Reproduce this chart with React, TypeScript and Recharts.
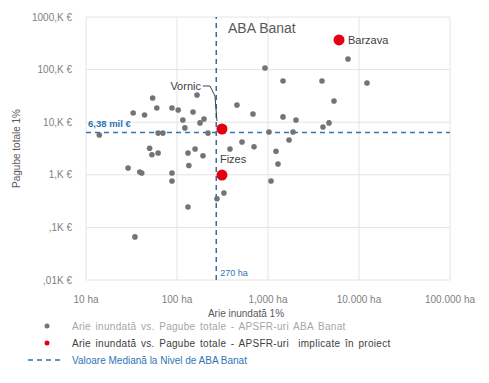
import React from 'react';
import { ScatterChart, Scatter, XAxis, YAxis, CartesianGrid, ReferenceLine, Label } from 'recharts';

// axis ticks (log scales)
const areaTicks = [10, 100, 1000, 10000, 100000];
const areaTickLabels = ['10 ha', '100 ha', '1,000 ha', '10.000 ha', '100.000 ha'];
const damageTicks = [10, 100, 1000, 10000, 100000, 1000000];
const damageTickLabels = [',01K €', ',1K €', '1,K €', '10,K €', '100,K €', '1000,K €'];

// APSFR-uri ABA Banat: arie inundata (ha) vs pagube totale (€)
const apsfrBanat = [
  { area: 14, damage: 5700 },
  { area: 33, damage: 15000 },
  { area: 44, damage: 13700 },
  { area: 54, damage: 28800 },
  { area: 60, damage: 18600 },
  { area: 88, damage: 18600 },
  { area: 103, damage: 17100 },
  { area: 150, damage: 15600 },
  { area: 116, damage: 11000 },
  { area: 179, damage: 9700 },
  { area: 198, damage: 11500 },
  { area: 122, damage: 7800 },
  { area: 62, damage: 6200 },
  { area: 70, damage: 6200 },
  { area: 219, damage: 6200 },
  { area: 50, damage: 3200 },
  { area: 53, damage: 2400 },
  { area: 62, damage: 2600 },
  { area: 132, damage: 2600 },
  { area: 158, damage: 3100 },
  { area: 193, damage: 2300 },
  { area: 135, damage: 1500 },
  { area: 29, damage: 1350 },
  { area: 39, damage: 1130 },
  { area: 41, damage: 1080 },
  { area: 88, damage: 1080 },
  { area: 88, damage: 760 },
  { area: 328, damage: 450 },
  { area: 275, damage: 350 },
  { area: 132, damage: 245 },
  { area: 34.5, damage: 66 },
  { area: 166, damage: 32900 },
  { area: 456, damage: 21200 },
  { area: 684, damage: 14300 },
  { area: 518, damage: 4200 },
  { area: 702, damage: 3400 },
  { area: 382, damage: 3100 },
  { area: 1026, damage: 6500 },
  { area: 1883, damage: 6500 },
  { area: 1702, damage: 4600 },
  { area: 1225, damage: 2800 },
  { area: 1288, damage: 1600 },
  { area: 1079, damage: 760 },
  { area: 927, damage: 107000 },
  { area: 1462, damage: 60700 },
  { area: 3920, damage: 60700 },
  { area: 5310, damage: 25300 },
  { area: 7570, damage: 159000 },
  { area: 12240, damage: 55600 },
  { area: 1462, damage: 12600 },
  { area: 2030, damage: 11000 },
  { area: 4680, damage: 9700 },
  { area: 4020, damage: 8100 },
];

// APSFR-uri implicate in proiect
const apsfrProiect = [
  { area: 6030, damage: 365600, name: 'Barzava' },
  { area: 312, damage: 7430, name: 'Vornic' },
  { area: 312, damage: 990, name: 'Fizes' },
];

const medianArea = 270;
const medianDamage = 6380;

const GREY = '#747474';
const RED = '#e3000f';
const BLUE = '#2e75b6';
const FONT = '"Liberation Sans", Arial, sans-serif';

const GreyDot = (props: any) => <circle cx={props.cx} cy={props.cy} r={2.8} fill={GREY} />;

// red markers + their name labels
const ProjectDot = (props: any) => {
  const { cx, cy, payload } = props;
  const name = payload.name;
  return (
    <g>
      <circle cx={cx} cy={cy} r={5.5} fill={RED} />
      {name === 'Barzava' && (
        <text x={cx + 9} y={cy + 4} fontSize={11} fill="#404040">{name}</text>
      )}
      {name === 'Vornic' && (
        <g>
          <polyline
            points={`${cx - 19},${cy - 43} ${cx - 12},${cy - 43} ${cx - 7},${cy - 33} ${cx - 5},${cy - 8}`}
            fill="none"
            stroke="#404040"
            strokeWidth={1}
          />
          <text x={cx - 21} y={cy - 39} fontSize={11} fill="#404040" textAnchor="end">{name}</text>
        </g>
      )}
      {name === 'Fizes' && (
        <text x={cx - 2} y={cy - 12} fontSize={11} fill="#404040">{name}</text>
      )}
    </g>
  );
};

const legendRow = { position: 'absolute' as const, left: 0, height: 14, display: 'flex', alignItems: 'center', fontSize: 10, whiteSpace: 'pre' as const };

export default function App() {
  return (
    <div style={{ position: 'absolute', left: 0, top: 0, width: 489, height: 383, background: '#fff', fontFamily: FONT }}>
      <ScatterChart width={489} height={322} margin={{ top: 17, right: 39, bottom: 0, left: 0 }}>
        <CartesianGrid stroke="#e4e4e4" strokeWidth={1} />
        <XAxis
          type="number"
          dataKey="area"
          scale="log"
          domain={[10, 100000]}
          ticks={areaTicks}
          interval={0}
          allowDataOverflow
          axisLine={false}
          tickLine={false}
          height={42}
          tickMargin={10}
          tick={{ fill: '#7f7f7f', fontSize: 10, fontFamily: FONT }}
          tickFormatter={(v: number) => areaTickLabels[areaTicks.indexOf(v)]}
        >
          <Label value="Arie inundată 1%" position="insideBottom" offset={5} dx={-22} fill="#595959" fontSize={10} fontFamily={FONT} />
        </XAxis>
        <YAxis
          type="number"
          dataKey="damage"
          scale="log"
          domain={[10, 1000000]}
          ticks={damageTicks}
          interval={0}
          allowDataOverflow
          axisLine={false}
          tickLine={false}
          width={86}
          tickMargin={8}
          tick={{ fill: '#7f7f7f', fontSize: 10, fontFamily: FONT }}
          tickFormatter={(v: number) => damageTickLabels[damageTicks.indexOf(v)]}
        >
          <Label value="Pagube totale 1%" angle={-90} position="center" dx={-27} fill="#595959" fontSize={10} fontFamily={FONT} />
        </YAxis>
        <Scatter data={apsfrBanat} shape={GreyDot} isAnimationActive={false} />
        <ReferenceLine
          x={medianArea}
          stroke="#3a6d9e"
          strokeWidth={1.5}
          strokeDasharray="5 4"
          label={{ value: '270 ha', position: 'insideBottomLeft', offset: 4, fill: BLUE, fontSize: 9, fontFamily: FONT }}
        />
        <ReferenceLine
          y={medianDamage}
          stroke={BLUE}
          strokeWidth={1.5}
          strokeDasharray="5 4"
          label={{ value: '6,38 mil €', position: 'insideBottomLeft', offset: 5, dx: -3, fill: BLUE, fontSize: 9.5, fontWeight: 'bold', fontFamily: FONT }}
        />
        <Scatter data={apsfrProiect} shape={ProjectDot} isAnimationActive={false} />
        <text x={228} y={33} fontSize={14} fill="#595959" fontFamily={FONT}>ABA Banat</text>
      </ScatterChart>

      <div style={{ ...legendRow, top: 319, color: '#a6a6a6', letterSpacing: 0.3, wordSpacing: 1.5 }}>
        <svg width={72} height={14}><circle cx={47} cy={7} r={2.5} fill={GREY} /></svg>
        <span>Arie inundată vs. Pagube totale - APSFR-uri ABA Banat</span>
      </div>
      <div style={{ ...legendRow, top: 336, color: '#404040', letterSpacing: 0.3, wordSpacing: 1.5 }}>
        <svg width={72} height={14}><circle cx={47} cy={7} r={2.5} fill={RED} /></svg>
        <span>Arie inundată vs. Pagube totale - APSFR-uri  implicate în proiect</span>
      </div>
      <div style={{ ...legendRow, top: 353, color: BLUE }}>
        <svg width={72} height={14}><line x1={28} y1={7} x2={62} y2={7} stroke={BLUE} strokeWidth={1.5} strokeDasharray="5 4" /></svg>
        <span>Valoare Mediană la Nivel de ABA Banat</span>
      </div>
    </div>
  );
}
